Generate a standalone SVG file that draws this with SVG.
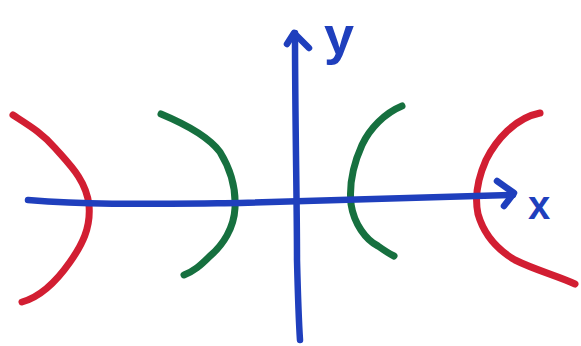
<svg xmlns="http://www.w3.org/2000/svg" width="581" height="346" viewBox="0 0 581 346">
<style>
.ax{fill:none;stroke:#1f3fbd;stroke-width:6.5;stroke-linecap:round;stroke-linejoin:round}
.red{fill:none;stroke:#d21e32;stroke-width:7;stroke-linecap:round;stroke-linejoin:round}
.grn{fill:none;stroke:#16703f;stroke-width:7;stroke-linecap:round;stroke-linejoin:round}
.lbl{fill:#1f3fbd;font-family:"Liberation Sans",Arial,sans-serif;font-weight:bold}
</style>
<rect width="581" height="346" fill="#fff"/>
<g id="curves">
<path id="red-left" class="red" d="M13,115 C30,126 42,133 55,148 C70,165 86,180 89,205 C91,228 82,245 70,262 C56,282 40,297 22,302"/>
<path id="green-left" class="grn" d="M161,114 C185,124 208,136 220,152 C231,170 236,190 235,208 C234,228 223,245 210,256 C200,266 194,271 184,275"/>
<path id="green-right" class="grn" d="M402,106 C385,113 370,128 362,145 C353,165 349,185 351,204 C354,224 366,240 378,246 C385,251 390,254 394,256"/>
<path id="red-right" class="red" d="M540,113 C515,118 496,140 486,160 C478,178 474,195 478,214 C484,235 498,250 515,260 C535,270 558,276 575,284"/>
</g>
<g id="connectors">
<path id="x-axis" class="ax" d="M28,200 C90,205 140,204 240,203 C330,201 420,197 513,195"/>
<path id="x-arrow" class="ax" d="M497,181 L514,193 L504,206"/>
<path id="y-axis" class="ax" d="M295,33 C295,120 297,200 297,260 C298,300 299,325 300,340"/>
<path id="y-arrow" class="ax" d="M287,44 L294,33 L309,48"/>
</g>
<g id="labels">
<text class="lbl" x="324" y="54" font-size="54">y</text>
<text class="lbl" x="528" y="219" font-size="40">x</text>
</g>
</svg>
